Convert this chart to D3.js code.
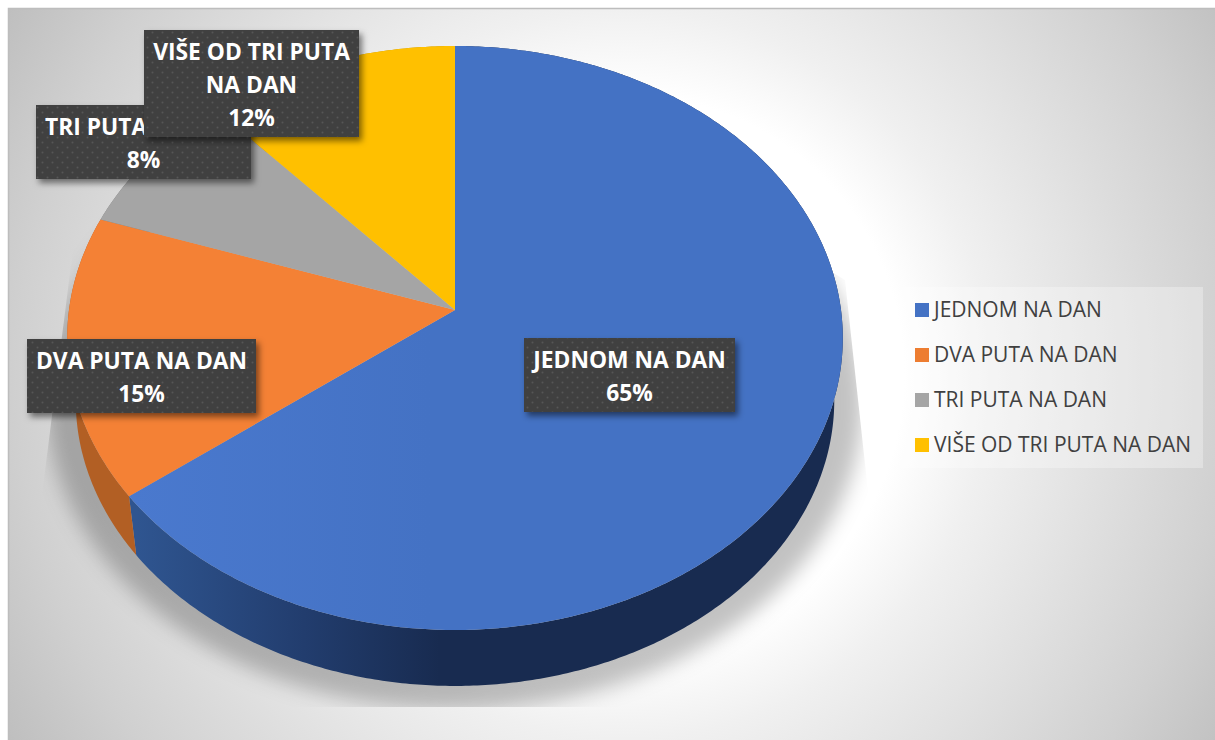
<!DOCTYPE html>
<html>
<head>
<meta charset="utf-8">
<title>Pie chart</title>
<script src="https://cdn.jsdelivr.net/npm/d3@7"></script>
<style>
  html, body { margin: 0; padding: 0; background: #fff; }
  svg { display: block; }
  text { font-family: "Open Sans", sans-serif; }
</style>
</head>
<body>
<script>
// Chart data
var categories = ["JEDNOM NA DAN", "DVA PUTA NA DAN", "TRI PUTA NA DAN", "VIŠE OD TRI PUTA NA DAN"];
var shares = [65, 15, 8, 12];
var percentLabels = ["65%", "15%", "8%", "12%"];
// The third label is cut off by the fourth one in the original, only "TRI PUTA" shows
var labelLines = [["JEDNOM NA DAN"], ["DVA PUTA NA DAN"], ["TRI PUTA"], ["VIŠE OD TRI PUTA", "NA DAN"]];
var topColors = ["#4472c4", "#f48135", "#a5a5a5", "#ffc000"];
var legendColors = ["#4472c4", "#ed7d31", "#a5a5a5", "#ffc000"];

var width = 1215;
var height = 740;

// Size of the tilted disc: apex of the slices, radius and perspective
var apexX = 455;
var apexY = 310;
var radiusX = 386;
var radiusY = 289.3;
var tilt = -0.0959;
var discDepth = 63;
var discShrink = 0.978;
// The 3D projection bends the slice angles a little
var angleBend = -0.024;

// Where the data labels were dragged to in the original: left, top, right, bottom
var labelBoxes = [[524, 338, 735, 412], [27, 339, 256, 413], [36, 105, 251, 179], [144, 30, 359, 137]];

var svg = d3.select("body").append("svg")
  .attr("width", width)
  .attr("height", height);
var defs = svg.append("defs");

// Background gradient
var bg = defs.append("radialGradient")
  .attr("id", "bg")
  .attr("gradientUnits", "userSpaceOnUse")
  .attr("cx", 625).attr("cy", 374).attr("r", 715);
[[0, "#ffffff"], [0.39, "#ffffff"], [0.51, "#f0f0f0"], [0.85, "#d0d0d0"], [1, "#bfbfbf"]].forEach(function(s) {
  bg.append("stop").attr("offset", s[0]).attr("stop-color", s[1]);
});

// Blue side of the disc gets darker to the right
var blueSide = defs.append("linearGradient")
  .attr("id", "blueSide")
  .attr("gradientUnits", "userSpaceOnUse")
  .attr("x1", 137).attr("x2", 440).attr("y1", 0).attr("y2", 0);
blueSide.append("stop").attr("offset", 0).attr("stop-color", "#2f5590");
blueSide.append("stop").attr("offset", 0.55).attr("stop-color", "#223d6e");
blueSide.append("stop").attr("offset", 1).attr("stop-color", "#182b50");

var blueTop = defs.append("linearGradient")
  .attr("id", "blueTop")
  .attr("gradientUnits", "userSpaceOnUse")
  .attr("x1", 130).attr("x2", 430).attr("y1", 0).attr("y2", 0);
blueTop.append("stop").attr("offset", 0).attr("stop-color", "#4a79ce");
blueTop.append("stop").attr("offset", 1).attr("stop-color", "#4472c4");

// Dotted fill of the data labels
var dots = defs.append("pattern")
  .attr("id", "dots")
  .attr("patternUnits", "userSpaceOnUse")
  .attr("width", 10).attr("height", 10);
dots.append("rect").attr("width", 10).attr("height", 10).attr("fill", "#404040");
dots.append("circle").attr("cx", 2.5).attr("cy", 2.5).attr("r", 1).attr("fill", "#565656");
dots.append("circle").attr("cx", 7.5).attr("cy", 7.5).attr("r", 1).attr("fill", "#565656");

var labelShadow = defs.append("filter")
  .attr("id", "labelShadow")
  .attr("x", "-10%").attr("y", "-20%").attr("width", "120%").attr("height", "140%");
labelShadow.append("feDropShadow")
  .attr("dx", 3).attr("dy", 4).attr("stdDeviation", 3)
  .attr("flood-color", "#000").attr("flood-opacity", 0.5);

var discBlur = defs.append("filter")
  .attr("id", "discBlur")
  .attr("x", "-10%").attr("y", "-10%").attr("width", "120%").attr("height", "120%");
discBlur.append("feGaussianBlur").attr("stdDeviation", 10);

// The disc shadow stops at a hard edge in the original
defs.append("clipPath").attr("id", "shadowClip")
  .append("polygon")
  .attr("points", "76,225 42,495 42,707 870,707 870,510 845,280 455,40");

// Panel
svg.append("rect")
  .attr("x", 8).attr("y", 8)
  .attr("width", width - 8).attr("height", height - 8)
  .attr("fill", "url(#bg)");
svg.append("path")
  .attr("d", "M8.5," + height + "V8.5H" + width)
  .attr("fill", "none")
  .attr("stroke", "#bdbdbd")
  .attr("stroke-width", 1.5);

// Pie angles from d3, first slice starts at twelve o'clock
var pie = d3.pie().sort(null).value(function(d) { return d; });
var slices = pie(shares);

// Angle on the disc to a point on the screen
function project(angle, depth) {
  var bent = angle + angleBend * Math.sin(2 * angle);
  var u = Math.sin(bent);
  var v = -Math.cos(bent);
  var k = 1 + tilt * v;
  var scale = depth ? discShrink : 1;
  return [
    apexX + scale * radiusX * u / k,
    apexY + (depth ? discDepth : 0) + scale * radiusY * v / k
  ];
}

function arcPoints(start, end, depth) {
  var steps = Math.max(2, Math.ceil((end - start) / 0.01));
  return d3.range(steps + 1).map(function(i) {
    return project(start + (end - start) * i / steps, depth);
  });
}

var line = d3.line().curve(d3.curveLinear);

// Shadow under the disc
var wholeBase = arcPoints(0, 2 * Math.PI, true);
var shadowPath = d3.line()
  .x(function(d) { return apexX + (d[0] - apexX) * 1.075; })
  .y(function(d) { return apexY + discDepth + (d[1] - apexY - discDepth) * 1.075; });
svg.append("g")
  .attr("clip-path", "url(#shadowClip)")
  .append("path")
  .attr("d", shadowPath(wholeBase) + "Z")
  .attr("fill", "#000")
  .attr("fill-opacity", 0.24)
  .attr("filter", "url(#discBlur)");

// Side walls
var sideColors = ["url(#blueSide)", "#b25f24", "#7c7c7c", "#bf9000"];
svg.append("g").selectAll("path")
  .data(slices)
  .join("path")
  .attr("d", function(d) {
    var top = arcPoints(d.startAngle, d.endAngle, false);
    var base = arcPoints(d.startAngle, d.endAngle, true).reverse();
    return line(top.concat(base)) + "Z";
  })
  .attr("fill", function(d, i) { return sideColors[i]; });

// Top faces
svg.append("g").selectAll("path")
  .data(slices)
  .join("path")
  .attr("d", function(d) {
    return line([[apexX, apexY]].concat(arcPoints(d.startAngle, d.endAngle, false))) + "Z";
  })
  .attr("fill", function(d, i) { return i == 0 ? "url(#blueTop)" : topColors[i]; });

// Data labels, in series order so the last one lies on top
categories.forEach(function(name, i) {
  var box = labelBoxes[i];
  var g = svg.append("g");
  g.append("rect")
    .attr("x", box[0]).attr("y", box[1])
    .attr("width", box[2] - box[0]).attr("height", box[3] - box[1])
    .attr("fill", "url(#dots)")
    .attr("filter", "url(#labelShadow)");
  var centre = (box[0] + box[2]) / 2;
  labelLines[i].concat([percentLabels[i]]).forEach(function(t, j) {
    g.append("text")
      // "TRI PUTA" is the start of a longer centred line, so it sits left of the middle
      .attr("x", t == "TRI PUTA" ? 45 : centre)
      .attr("y", box[1] + 30 + j * 32.8)
      .attr("text-anchor", t == "TRI PUTA" ? "start" : "middle")
      .attr("font-size", 22.8)
      .attr("font-weight", 700)
      .attr("fill", "#fff")
      .text(t);
  });
});

// Legend
var legend = svg.append("g");
legend.append("rect")
  .attr("x", 902).attr("y", 287)
  .attr("width", 301).attr("height", 181)
  .attr("fill", "#fff")
  .attr("fill-opacity", 0.3);

var legendY = d3.scalePoint()
  .domain(categories)
  .range([310, 445]);

var items = legend.selectAll("g")
  .data(categories)
  .join("g")
  .attr("transform", function(d) { return "translate(915," + legendY(d) + ")"; });
items.append("rect")
  .attr("y", -7)
  .attr("width", 14).attr("height", 14)
  .attr("fill", function(d, i) { return legendColors[i]; });
items.append("text")
  .attr("x", 19)
  .attr("y", 7)
  .attr("font-size", 21)
  .attr("fill", "#404040")
  .text(function(d) { return d; });
</script>
</body>
</html>
